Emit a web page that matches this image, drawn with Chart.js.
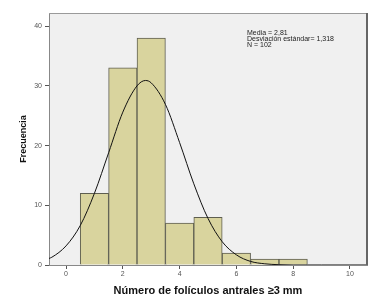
<!DOCTYPE html>
<html>
<head>
<meta charset="utf-8">
<script src="https://cdn.jsdelivr.net/npm/chart.js@4/dist/chart.umd.min.js"></script>
<style>
  html, body { margin: 0; padding: 0; background: #ffffff; }
  #wrap { width: 383px; height: 298px; }
</style>
</head>
<body>
<div id="wrap"><canvas id="histChart" width="383" height="298"></canvas></div>
<script>
// Histogram bins (centre of each bin, width 1) and counts
const binCenters = [1, 2, 3, 4, 5, 6, 7, 8];
const frequencies = [12, 33, 38, 7, 8, 2, 1, 1];

// Normal curve
const curveX = [-0.6, -0.5, 0, 0.5, 1, 1.5, 2, 2.5, 2.8, 3, 3.5, 4, 4.5, 5, 5.5, 6, 6.5, 7, 7.5, 8, 9, 10, 10.6];
const curveY = [1.1, 1.3, 3.2, 6.6, 12.0, 18.8, 25.6, 30.0, 30.9, 30.5, 26.9, 20.5, 13.6, 7.8, 3.9, 1.7, 0.6, 0.2, 0.05, 0, 0, 0, 0];

// Axis ticks
const xTicks = [0, 2, 4, 6, 8, 10];
const yTicks = [0, 10, 20, 30, 40];

// Stats box text
const statsLines = ['Media = 2,81', 'Desviación estándar= 1,318', 'N = 102'];

const barPoints = binCenters.map((x, i) => ({ x: x, y: frequencies[i] }));
const curvePoints = curveX.map((x, i) => ({ x: x, y: curveY[i] }));

// Plot background, frame and stats text
const framePlugin = {
    id: 'frame',
    beforeDraw(chart) {
        const { ctx, chartArea: a } = chart;
        ctx.save();
        ctx.fillStyle = '#f0f0f0';
        ctx.fillRect(a.left, a.top, a.right - a.left, a.bottom - a.top);
        ctx.restore();
    },
    afterDraw(chart) {
        const { ctx, chartArea: a } = chart;
        ctx.save();
        ctx.strokeStyle = '#9a9a9a';
        ctx.lineWidth = 1;
        ctx.beginPath();
        ctx.moveTo(a.left, a.top + 0.5);
        ctx.lineTo(a.right, a.top + 0.5);
        ctx.stroke();
        ctx.strokeStyle = '#666666';
        ctx.lineWidth = 2;
        ctx.beginPath();
        ctx.moveTo(a.right, a.top);
        ctx.lineTo(a.right, a.bottom);
        ctx.stroke();

        ctx.fillStyle = '#222222';
        ctx.font = '7px "Liberation Sans", Arial, sans-serif';
        ctx.textBaseline = 'middle';
        ctx.textAlign = 'left';
        statsLines.forEach((t, i) => {
            ctx.fillText(t, 247, 33 + i * 6);
        });
        ctx.restore();
    }
};

const ctx = document.getElementById('histChart').getContext('2d');
const histChart = new Chart(ctx, {
    type: 'bar',
    data: {
        datasets: [{
            type: 'bar',
            data: barPoints,
            backgroundColor: '#d9d49e',
            borderColor: '#5e5e50',
            borderWidth: 1,
            barPercentage: 1,
            categoryPercentage: 1,
            order: 2
        }, {
            type: 'line',
            data: curvePoints,
            borderColor: '#111111',
            borderWidth: 1,
            pointRadius: 0,
            fill: false,
            cubicInterpolationMode: 'monotone',
            order: 1
        }]
    },
    options: {
        responsive: false,
        animation: false,
        layout: { padding: { top: 13, right: 16, left: 0, bottom: 0 } },
        plugins: {
            legend: { display: false },
            tooltip: { enabled: false }
        },
        scales: {
            x: {
                type: 'linear',
                offset: false,
                min: -0.6,
                max: 10.6,
                afterBuildTicks: scale => { scale.ticks = xTicks.map(v => ({ value: v })); },
                afterFit: scale => { scale.height = 33; },
                grid: { offset: false, drawOnChartArea: false, tickLength: 4, color: '#555555' },
                border: { color: '#888888' },
                ticks: {
                    color: '#555555',
                    padding: 1,
                    maxRotation: 0,
                    font: { family: '"Liberation Sans", Arial, sans-serif', size: 7 }
                },
                title: {
                    display: true,
                    text: 'Número de folículos antrales ≥3 mm',
                    color: '#111111',
                    font: { family: '"Liberation Sans", Arial, sans-serif', size: 11, weight: 'bold' },
                    padding: { top: 4, bottom: 0 }
                }
            },
            y: {
                type: 'linear',
                min: 0,
                max: 42.2,
                afterBuildTicks: scale => { scale.ticks = yTicks.map(v => ({ value: v })); },
                afterFit: scale => { scale.width = 49; },
                grid: { drawOnChartArea: false, tickLength: 4, color: '#555555' },
                border: { color: '#888888' },
                ticks: {
                    color: '#555555',
                    padding: 3,
                    font: { family: '"Liberation Sans", Arial, sans-serif', size: 7 }
                },
                title: {
                    display: true,
                    text: 'Frecuencia',
                    color: '#111111',
                    font: { family: '"Liberation Sans", Arial, sans-serif', size: 9, weight: 'bold' },
                    padding: { top: 18, bottom: 0 }
                }
            }
        }
    },
    plugins: [framePlugin]
});
</script>
</body>
</html>
